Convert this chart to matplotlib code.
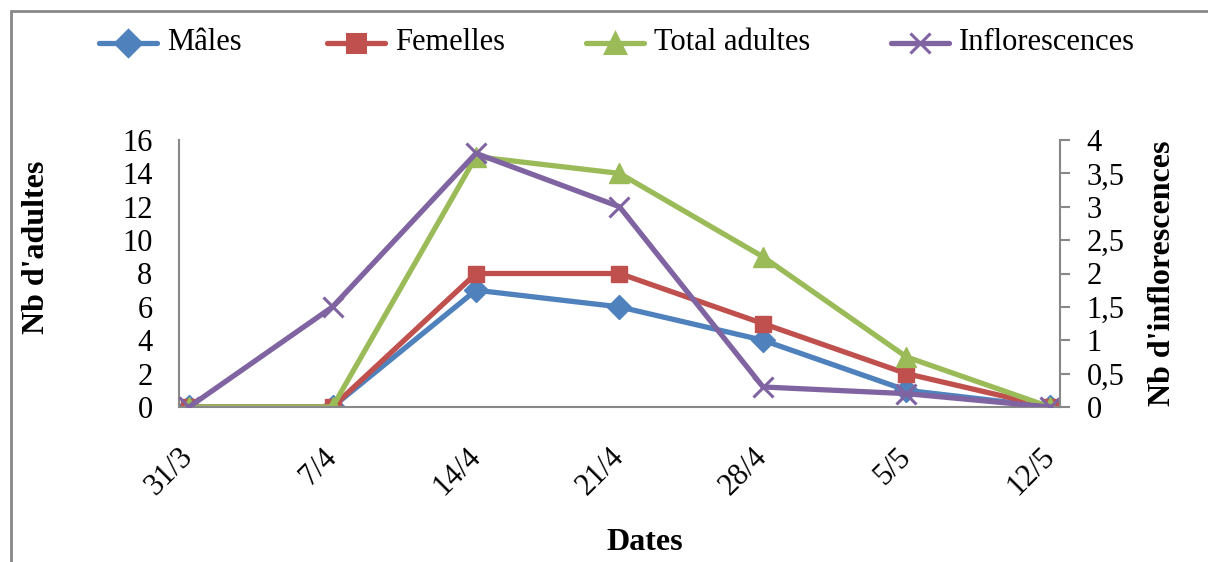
import matplotlib
matplotlib.use("Agg")
import matplotlib.pyplot as plt
from matplotlib.patches import Rectangle
from matplotlib.lines import Line2D
from matplotlib.ticker import FuncFormatter

dates = ['31/3', '7/4', '14/4', '21/4', '28/4', '5/5', '12/5']
males = [0, 0, 7, 6, 4, 1, 0]
femelles = [0, 0, 8, 8, 5, 2, 0]
total_adultes = [0, 0, 15, 14, 9, 3, 0]
inflorescences = [0, 1.5, 3.8, 3, 0.3, 0.2, 0]

plt.rcParams['font.family'] = ['Liberation Serif', 'DejaVu Serif']
fs = 22
W, H = 1208, 562

fig = plt.figure(figsize=(W / 100, H / 100), dpi=100)
# outer frame of the excel chart
fig.patches.append(Rectangle((11 / W, -0.1), 1.2, 1 - 11 / H + 0.1,
                             transform=fig.transFigure, fill=False,
                             edgecolor='#888888', lw=2))

ax = fig.add_axes([179 / W, 1 - 407 / H, (1060 - 179) / W, (407 - 140) / H])
ax2 = ax.twinx()
x = range(len(dates))

styles = [
    ('Mâles', '#4F81BD', 'D', 12),
    ('Femelles', '#C0504D', 's', 12),
    ('Total adultes', '#9BBB59', '^', 14),
    ('Inflorescences', '#8064A2', 'x', 14),
]
lw = 3.8
ax.plot(x, males, color=styles[0][1], lw=lw, marker='D', ms=12)
ax.plot(x, femelles, color=styles[1][1], lw=lw, marker='s', ms=12)
ax.plot(x, total_adultes, color=styles[2][1], lw=lw, marker='^', ms=14)
ax2.plot(x, inflorescences, color=styles[3][1], lw=lw, marker='x', ms=14, mew=2.2)

pad = 10 / 143.5
ax.set_xlim(-pad, 6 + pad)
ax.set_ylim(0, 16)
ax.set_yticks(range(0, 17, 2))
ax2.set_ylim(0, 4)
ax2.set_yticks([0, 0.5, 1, 1.5, 2, 2.5, 3, 3.5, 4])
ax2.yaxis.set_major_formatter(FuncFormatter(lambda v, p: ('%g' % v).replace('.', ',')))

ax.set_xticks(list(x))
ax.set_xticklabels(dates, rotation=45, ha='right', va='center', rotation_mode='anchor')

for a in (ax, ax2):
    a.spines['top'].set_visible(False)
    for s in ('left', 'right', 'bottom'):
        a.spines[s].set_color('#888888')
        a.spines[s].set_linewidth(1.5)
ax.spines['right'].set_visible(False)
ax2.spines['left'].set_visible(False)
ax2.spines['bottom'].set_visible(False)

ax.tick_params(axis='y', length=0, labelsize=fs, pad=19)
ax.tick_params(axis='x', length=0, labelsize=fs, pad=33)
ax2.tick_params(axis='y', length=7, width=1.5, color='#888888', labelsize=fs, pad=12)

fig.text(37 / W, 1 - 247 / H, "Nb d'adultes", rotation=90, ha='center', va='center',
         fontsize=23, fontweight='bold')
fig.text(1163 / W, 1 - 273 / H, "Nb d'inflorescences", rotation=90, ha='center',
         va='center', fontsize=23, fontweight='bold')
fig.text(645 / W, 1 - 543 / H, 'Dates', ha='center', va='center',
         fontsize=23, fontweight='bold')

# legend drawn entry by entry, like the excel layout
leg_x = [128, 356, 615, 920]
leg_y = 1 - 43 / H
for (name, col, mk, ms), mx in zip(styles, leg_x):
    fig.lines.append(Line2D([(mx - 29) / W, (mx + 29) / W], [leg_y, leg_y],
                            transform=fig.transFigure, color=col, lw=lw,
                            solid_capstyle='round'))
    fig.lines.append(Line2D([mx / W], [leg_y], transform=fig.transFigure, color=col,
                            marker=mk, ms=ms + 1, mew=2.2, lw=0))
    fig.text((mx + 39) / W, leg_y, name, ha='left', va='center', fontsize=fs)

fig.savefig('out.png', dpi=100)
